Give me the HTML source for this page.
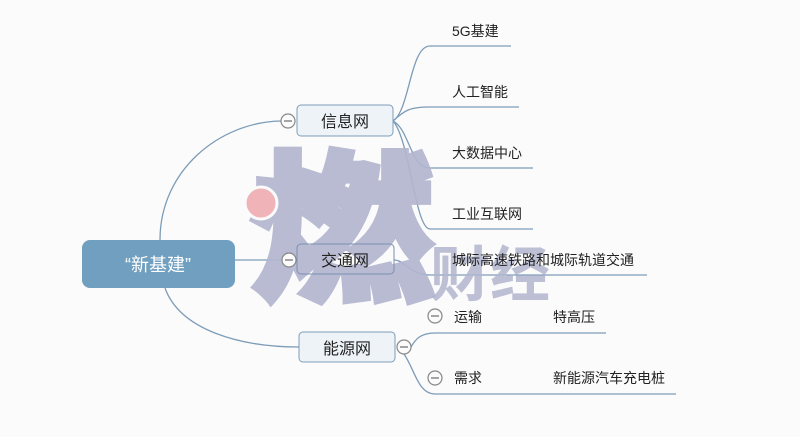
<!DOCTYPE html>
<html><head><meta charset="utf-8"><style>
body{margin:0;width:800px;height:437px;background:#fbfbfb;overflow:hidden;font-family:"Liberation Sans","Noto Sans CJK SC",sans-serif}
</style></head><body>
<svg width="800" height="437" viewBox="0 0 800 437" xmlns="http://www.w3.org/2000/svg" style="position:absolute;left:0;top:0">
<g fill="none" stroke="#7d9cb8" stroke-width="1.3">
<path d="M160 240 C160 170 220 122 281 121"/>
<path d="M235 260 L282 260"/>
<path d="M165 288 C180 330 240 347 299 347"/>
<path d="M393 121 C410 110 410 46 430 46 L511 46"/>
<path d="M393 121 C405 110 410 107 430 107 L519 107"/>
<path d="M393 121 C410 130 410 168 430 168 L533 168"/>
<path d="M393 121 C410 140 415 229 430 229 L533 229"/>
<path d="M394 260 C405 260 410 275 430 275 L647 275"/>
<path d="M411 347 C415 340 420 333 435 333 L606 333"/>
<path d="M404 354 C415 370 418 394 435 394 L676 394"/>
</g>
<g transform="translate(250,288) scale(1.02,0.9)">
<text x="0" y="0" font-size="180" font-weight="900" fill="#b3b6cf" opacity="0.92" font-family="Noto Sans CJK SC, sans-serif" stroke="#b3b6cf" stroke-width="6">燃</text>
</g>
<circle cx="261" cy="203" r="16" fill="#f0b4b8" stroke="#fbfbfb" stroke-width="3"/>
<text x="430" y="296" font-size="60" font-weight="bold" fill="#b3b6cf" opacity="0.85" font-family="Noto Sans CJK SC, sans-serif">财经</text>
<rect x="82" y="240" width="153" height="48" rx="8" fill="#719fbf"/>
<text x="158" y="271" font-size="18" fill="#fff" text-anchor="middle">“新基建”</text>
<rect x="297" y="105" width="96" height="31" rx="4" fill="#eef3f8" stroke="#7d9cb8"/>
<text x="345" y="127" font-size="16" fill="#222" text-anchor="middle">信息网</text>
<rect x="297" y="244" width="97" height="30" rx="4" fill="none" stroke="#7d8fb0"/>
<text x="345" y="266" font-size="16" fill="#222" text-anchor="middle">交通网</text>
<rect x="299" y="332" width="96" height="30" rx="4" fill="#eef3f8" stroke="#7d9cb8"/>
<text x="347" y="354" font-size="16" fill="#222" text-anchor="middle">能源网</text>
<g fill="#fbfbfb" stroke="#888" stroke-width="1.2">
<circle cx="288" cy="121" r="7"/><circle cx="289" cy="260" r="7"/><circle cx="404" cy="347" r="7"/>
<circle cx="435" cy="316" r="7"/><circle cx="435" cy="378" r="7"/>
</g>
<g stroke="#777" stroke-width="1.3">
<line x1="284" y1="121" x2="292" y2="121"/><line x1="285" y1="260" x2="293" y2="260"/><line x1="400" y1="347" x2="408" y2="347"/>
<line x1="431" y1="316" x2="439" y2="316"/><line x1="431" y1="378" x2="439" y2="378"/>
</g>
<g font-size="14" fill="#222">
<text x="452" y="36">5G基建</text>
<text x="452" y="97">人工智能</text>
<text x="452" y="158">大数据中心</text>
<text x="452" y="219">工业互联网</text>
<text x="452" y="265">城际高速铁路和城际轨道交通</text>
<text x="454" y="322">运输</text>
<text x="553" y="322">特高压</text>
<text x="454" y="383">需求</text>
<text x="553" y="383">新能源汽车充电桩</text>
</g>
</svg>
</body></html>
